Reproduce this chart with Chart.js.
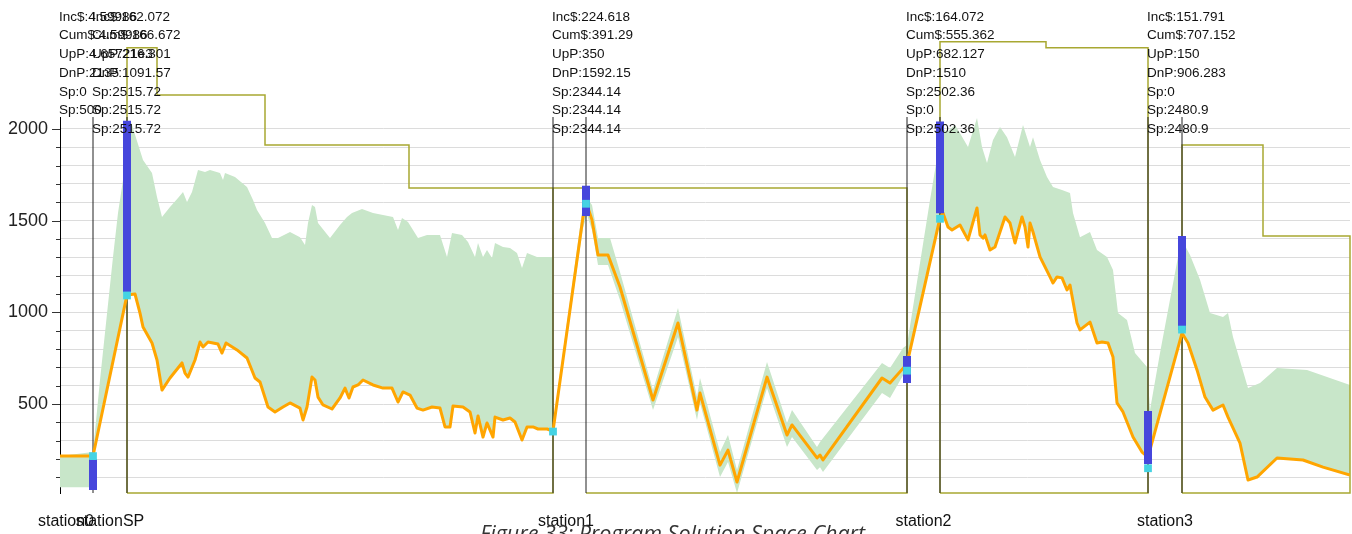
<!DOCTYPE html>
<html lang="en">
<head>
  <meta charset="UTF-8" />
  <title>Program Solution Space Chart</title>
  <script src="https://cdn.jsdelivr.net/npm/chart.js"></script>
  <style>
    html, body { margin: 0; padding: 0; background: #ffffff; }
    #wrap { width: 1352px; height: 534px; overflow: hidden; }
  </style>
</head>
<body>
  <div id="wrap"><canvas id="solutionChart" width="1352" height="534"></canvas></div>

  <script>
    // value axis range and tick values
    const yMin = 15;
    const yMax = 2065;
    const yTickValues = [100, 200, 300, 400, 500, 600, 700, 800, 900, 1000,
                         1100, 1200, 1300, 1400, 1500, 1600, 1700, 1800, 1900, 2000];

    // distance axis: station label positions and names
    const stationTicks = [6, 50, 506, 863.5, 1105];
    const stationNames = ['station0', 'stationSP', 'station1', 'station2', 'station3'];

    // arrival / departure marker lines
    const stationLines = [33, 67, 493, 526, 847, 880, 1088, 1122];

    // info blocks written at the top of each station
    const infoX = [0, 33, 493, 847, 1088];
    const infoText = [
      ['Inc$:4.59986', 'Cum$:4.59986', 'UpP:4.65721e3', 'DnP:2135', 'Sp:0', 'Sp:500'],
      ['Inc$:162.072', 'Cum$:166.672', 'UpP:216.301', 'DnP:1091.57', 'Sp:2515.72', 'Sp:2515.72', 'Sp:2515.72'],
      ['Inc$:224.618', 'Cum$:391.29', 'UpP:350', 'DnP:1592.15', 'Sp:2344.14', 'Sp:2344.14', 'Sp:2344.14'],
      ['Inc$:164.072', 'Cum$:555.362', 'UpP:682.127', 'DnP:1510', 'Sp:2502.36', 'Sp:0', 'Sp:2502.36'],
      ['Inc$:151.791', 'Cum$:707.152', 'UpP:150', 'DnP:906.283', 'Sp:0', 'Sp:2480.9', 'Sp:2480.9']
    ];

    // UpP / DnP markers [distance, value]
    const stationMarks = [[33, 216], [67, 1092], [493, 350], [526, 1592], [847, 682], [880, 1510], [1088, 150], [1122, 906]];

    // blue range bars [distance, low, high]
    const rangeBars = [[33, 31, 200], [67, 1110, 2044], [526, 1525, 1690], [847, 615, 762],
                       [880, 1540, 2040], [1088, 173, 462], [1122, 903, 1416]];

    // speed profile (orange) [distance, value]
    const speed = [
      [0, 217], [33, 217], [67, 1095], [75, 1100], [80, 996], [83, 920], [92, 833], [97, 740], [102, 576],
      [110, 642], [122, 724], [125, 669], [128, 647], [135, 740], [140, 838], [143, 811], [148, 838],
      [158, 827], [162, 778], [166, 833], [177, 795], [187, 751], [195, 642], [200, 620], [208, 484],
      [215, 457], [223, 484], [230, 506], [240, 478], [243, 413], [247, 484], [252, 647], [255, 631],
      [258, 538], [263, 495], [272, 473], [280, 533], [285, 587], [289, 533], [293, 593], [298, 604],
      [303, 631], [313, 604], [323, 587], [332, 587], [338, 511], [343, 566], [350, 549], [357, 478],
      [363, 467], [372, 484], [380, 478], [385, 375], [390, 375], [393, 489], [403, 484], [410, 457],
      [415, 342], [418, 435], [423, 320], [427, 397], [433, 320], [435, 429], [443, 413], [450, 424],
      [455, 402], [462, 304], [467, 375], [473, 375], [478, 364], [487, 364], [493, 353],
      [523, 1520], [527, 1585], [532, 1504], [538, 1313], [548, 1313], [560, 1138], [593, 522],
      [618, 942], [637, 467], [640, 560], [660, 167], [668, 249], [677, 75], [707, 647], [727, 331],
      [732, 386], [757, 206], [760, 222], [763, 195], [822, 642], [830, 615], [847, 719],
      [880, 1515], [883, 1542], [888, 1465], [892, 1449], [900, 1476], [908, 1395], [917, 1569],
      [920, 1422], [923, 1405], [925, 1422], [930, 1340], [935, 1356], [945, 1520], [950, 1487],
      [955, 1378], [962, 1520], [965, 1465], [968, 1356], [970, 1487], [973, 1438], [980, 1302],
      [990, 1193], [993, 1160], [997, 1193], [1002, 1188], [1007, 1122], [1010, 1149], [1017, 942],
      [1020, 904], [1030, 947], [1037, 833], [1042, 838], [1048, 833], [1053, 756], [1057, 506],
      [1063, 457], [1073, 320], [1082, 238], [1088, 211],
      [1122, 887], [1128, 833], [1137, 686], [1145, 538], [1153, 467], [1163, 495], [1168, 429],
      [1180, 287], [1188, 86], [1197, 102], [1217, 206], [1243, 195], [1263, 156], [1290, 113]
    ];

    // solution space upper edge (green) [distance, value]
    const spaceUpper = [
      [0, 217], [33, 238], [40, 631], [53, 1302], [58, 1542], [63, 1722], [71, 2038], [83, 1830],
      [92, 1760], [97, 1629], [102, 1520], [110, 1574], [118, 1623], [123, 1656], [127, 1602],
      [132, 1656], [138, 1776], [145, 1765], [150, 1776], [160, 1760], [163, 1722], [165, 1760],
      [175, 1738], [187, 1683], [193, 1613], [197, 1558], [205, 1487], [212, 1405], [218, 1405],
      [230, 1438], [240, 1410], [245, 1367], [248, 1487], [252, 1585], [255, 1574], [258, 1487],
      [270, 1405], [280, 1476], [287, 1520], [292, 1542], [302, 1563], [313, 1542], [333, 1520],
      [338, 1449], [342, 1515], [348, 1493], [358, 1405], [367, 1422], [380, 1422], [387, 1302],
      [392, 1432], [402, 1422], [408, 1384], [415, 1302], [418, 1378], [423, 1302], [427, 1340],
      [432, 1296], [435, 1378], [443, 1356], [450, 1351], [457, 1324], [462, 1242], [467, 1324],
      [477, 1302], [492, 1302], [493, 386],
      [523, 1585], [527, 1623], [532, 1585], [538, 1405], [550, 1405], [560, 1220], [593, 576],
      [618, 1024], [637, 538], [640, 642], [660, 238], [668, 331], [677, 140], [707, 729], [727, 397],
      [732, 467], [757, 266], [760, 293], [822, 724], [830, 697], [843, 806], [847, 822],
      [870, 1613], [882, 2005], [887, 1983], [895, 2022], [900, 1977], [908, 1901], [917, 2060],
      [922, 1901], [927, 1814], [933, 1940], [940, 2011], [947, 1955], [955, 1847], [963, 2022],
      [970, 1901], [973, 1955], [980, 1830], [987, 1738], [993, 1683], [1002, 1667], [1010, 1650],
      [1013, 1542], [1020, 1410], [1030, 1438], [1037, 1340], [1047, 1302], [1053, 1231], [1058, 996],
      [1067, 958], [1075, 778], [1087, 702], [1090, 467], [1100, 778], [1118, 1302], [1122, 1395],
      [1130, 1313], [1140, 1177], [1150, 996], [1163, 975], [1168, 996], [1173, 866], [1188, 587],
      [1200, 615], [1217, 697], [1247, 686], [1290, 604]
    ];

    // lower edge where it leaves the speed profile
    const lowerStart = [[0, 47], [33, 47], [33.3, 217]];
    const lowerBand = [
      [523, 1460], [527, 1531], [532, 1449], [538, 1258], [548, 1258], [560, 1067], [593, 467],
      [618, 866], [637, 413], [640, 506], [660, 102], [668, 184], [677, 15], [707, 587], [727, 266],
      [732, 320], [757, 140], [760, 156], [763, 129], [822, 560], [830, 533], [845, 675]
    ];

    // speed limit outline per section (olive)
    const limitSections = [
      [[67, 15], [67, 2442], [97, 2442], [97, 2185], [205, 2185], [205, 1913], [349, 1913], [349, 1678],
       [493, 1678], [493, 15], [67, 15]],
      [[493, 1678], [847, 1678], [847, 15], [526, 15]],
      [[880, 15], [880, 2475], [986, 2475], [986, 2442], [1088, 2442], [1088, 15], [880, 15]],
      [[1122, 15], [1122, 1913], [1203, 1913], [1203, 1416], [1290, 1416], [1290, 15], [1122, 15]]
    ];

    const toXY = pts => pts.map(p => ({ x: p[0], y: p[1] }));
    const joinSections = list => {
      const out = [];
      list.forEach((sec, i) => {
        if (i) out.push({ x: sec[0][0], y: null });
        sec.forEach(p => out.push({ x: p[0], y: p[1] }));
      });
      return out;
    };

    const spaceLower = [
      ...lowerStart,
      ...speed.filter(p => p[0] > 33 && p[0] <= 493),
      ...lowerBand,
      ...speed.filter(p => p[0] >= 880)
    ];

    const extras = {
      id: 'extras',
      afterDatasetsDraw(chart) {
        const { ctx, chartArea, scales } = chart;
        ctx.save();
        // y axis tick marks
        ctx.strokeStyle = '#333';
        ctx.lineWidth = 1;
        yTickValues.forEach(v => {
          const y = Math.round(scales.y.getPixelForValue(v)) + 0.5;
          const len = v % 500 === 0 ? 8 : 4;
          ctx.beginPath();
          ctx.moveTo(chartArea.left - len, y);
          ctx.lineTo(chartArea.left, y);
          ctx.stroke();
        });
        // station info blocks
        ctx.fillStyle = '#111';
        ctx.font = '13.5px "Liberation Sans"';
        ctx.textAlign = 'left';
        ctx.textBaseline = 'middle';
        infoText.forEach((lines, i) => {
          const x = scales.x.getPixelForValue(infoX[i]) - 1;
          lines.forEach((t, j) => ctx.fillText(t, x, 17 + j * 18.7));
        });
        ctx.restore();
      },
      afterDraw(chart) {
        const { ctx } = chart;
        ctx.save();
        ctx.fillStyle = '#333';
        ctx.font = 'italic 21.5px "Open Sans"';
        ctx.textBaseline = 'alphabetic';
        ctx.fillText('Figure 33: Program Solution Space Chart', 480, 541);
        ctx.restore();
      }
    };

    const ctx = document.getElementById('solutionChart').getContext('2d');
    const solutionChart = new Chart(ctx, {
      type: 'line',
      data: {
        datasets: [
          {
            label: 'Marks',
            data: toXY(stationMarks),
            showLine: false,
            pointStyle: 'rect',
            pointRadius: 5.5,
            pointBorderWidth: 0,
            pointBackgroundColor: '#45d3e3',
            order: 0
          },
          {
            label: 'Range',
            data: joinSections(rangeBars.map(b => [[b[0], b[1]], [b[0], b[2]]])),
            borderColor: '#4646dc',
            borderWidth: 8,
            borderCapStyle: 'butt',
            pointRadius: 0,
            spanGaps: false,
            order: 1
          },
          {
            label: 'Speed',
            data: toXY(speed),
            borderColor: '#ffa500',
            borderWidth: 3,
            borderJoinStyle: 'round',
            pointRadius: 0,
            order: 2
          },
          {
            label: 'Stations',
            data: joinSections(stationLines.map(x => [[x, yMin], [x, yMax]])),
            borderColor: '#222',
            borderWidth: 1,
            pointRadius: 0,
            spanGaps: false,
            order: 3
          },
          {
            label: 'Limit',
            data: joinSections(limitSections),
            borderColor: '#a8a832',
            borderWidth: 1.5,
            pointRadius: 0,
            spanGaps: false,
            clip: false,
            order: 4
          },
          {
            label: 'Space',
            data: toXY(spaceUpper),
            borderWidth: 0,
            pointRadius: 0,
            backgroundColor: '#c8e6c9',
            fill: '+1',
            order: 5
          },
          {
            label: 'SpaceLow',
            data: toXY(spaceLower),
            borderWidth: 0,
            pointRadius: 0,
            fill: false,
            order: 6
          }
        ]
      },
      options: {
        responsive: false,
        animation: false,
        devicePixelRatio: 1,
        layout: { autoPadding: false, padding: { top: 117, right: 2, left: 0, bottom: 0 } },
        plugins: {
          legend: { display: false },
          tooltip: { enabled: false }
        },
        scales: {
          x: {
            type: 'linear',
            min: 0,
            max: 1290,
            grid: { display: false },
            border: { display: false },
            afterBuildTicks: s => { s.ticks = stationTicks.map(v => ({ value: v })); },
            afterFit: s => { s.height = 41; },
            ticks: {
              autoSkip: false,
              maxRotation: 0,
              padding: 11,
              color: '#111',
              font: { family: 'Liberation Sans', size: 16 },
              callback: (v, i) => stationNames[i]
            }
          },
          y: {
            min: yMin,
            max: yMax,
            afterBuildTicks: s => { s.ticks = yTickValues.map(v => ({ value: v })); },
            afterFit: s => { s.width = 60; },
            grid: { color: '#dcdcdc', drawTicks: false },
            border: { color: '#000' },
            ticks: {
              autoSkip: false,
              padding: 12,
              color: '#222',
              font: { family: 'Liberation Sans', size: 18 },
              callback: v => (v % 500 === 0 ? v : '')
            }
          }
        }
      },
      plugins: [extras]
    });
  </script>
</body>
</html>
